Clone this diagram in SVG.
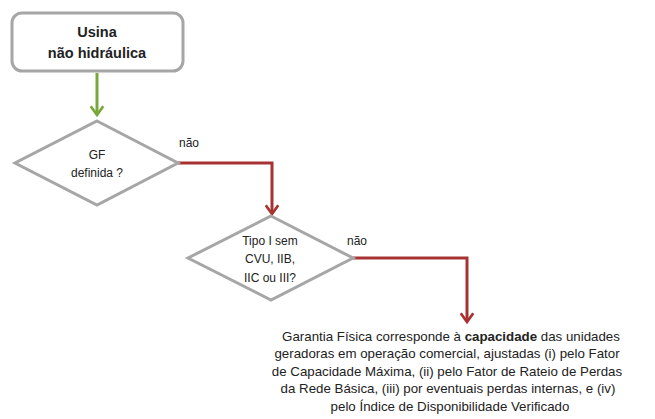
<svg xmlns="http://www.w3.org/2000/svg" width="655" height="419" viewBox="0 0 655 419">
<defs>
<style>
.shape{fill:#fff;stroke:#a6a6a6;stroke-width:3}
.t{font-family:"Liberation Sans",Arial,sans-serif;fill:#222;text-anchor:middle}
.b{font-size:13.3px}
.g{fill:none;stroke:#78a83a;stroke-width:3;stroke-linejoin:miter}
.r{fill:none;stroke:#a83232;stroke-width:3;stroke-linejoin:miter}
</style>
<marker id="ag" viewBox="0 0 12 12" refX="9" refY="6" markerWidth="5" markerHeight="5" orient="auto" markerUnits="strokeWidth"><path d="M2,1 L9,6 L2,11" fill="none" stroke="#78a83a" stroke-width="2.2"/></marker>
<marker id="ar" viewBox="0 0 12 12" refX="9" refY="6" markerWidth="5" markerHeight="5" orient="auto" markerUnits="strokeWidth"><path d="M2,1 L9,6 L2,11" fill="none" stroke="#a83232" stroke-width="2.2"/></marker>
</defs>
<rect width="655" height="419" fill="#fff"/>
<g id="connectors">
<path class="g" d="M97,73 V115" marker-end="url(#ag)"/>
<path class="r" d="M178,163 H272 V214" marker-end="url(#ar)"/>
<path class="r" d="M353,258 H467 V322" marker-end="url(#ar)"/>
<text class="t" x="189" y="147" font-size="12">não</text>
<text class="t" x="357" y="245" font-size="12">não</text>
</g>
<g id="start">
<rect class="shape" x="12" y="13" width="171" height="58" rx="10"/>
<text class="t" x="97" y="37" font-size="14.5" font-weight="bold">Usina</text>
<text class="t" x="97" y="58" font-size="14.5" font-weight="bold">não hidráulica</text>
</g>
<g id="d1">
<polygon class="shape" points="97,121 178,163 97,205 15,163"/>
<text class="t" x="97" y="159" font-size="12">GF</text>
<text class="t" x="97" y="177" font-size="12">definida ?</text>
</g>
<g id="d2">
<polygon class="shape" points="271,216 353,258 271,300 188,258"/>
<text class="t" x="270" y="245" font-size="12">Tipo I sem</text>
<text class="t" x="270" y="263" font-size="12">CVU, IIB,</text>
<text class="t" x="270" y="282" font-size="12">IIC ou III?</text>
</g>
<g id="result">
<text class="t b" x="451" y="341">Garantia Física corresponde à <tspan font-weight="bold">capacidade</tspan> das unidades</text>
<text class="t b" x="447" y="358">geradoras em operação comercial, ajustadas (i) pelo Fator</text>
<text class="t b" x="447" y="376">de Capacidade Máxima, (ii) pelo Fator de Rateio de Perdas</text>
<text class="t b" x="448" y="393">da Rede Básica, (iii) por eventuais perdas internas, e (iv)</text>
<text class="t b" x="450" y="411">pelo Índice de Disponibilidade Verificado</text>
</g>
</svg>
